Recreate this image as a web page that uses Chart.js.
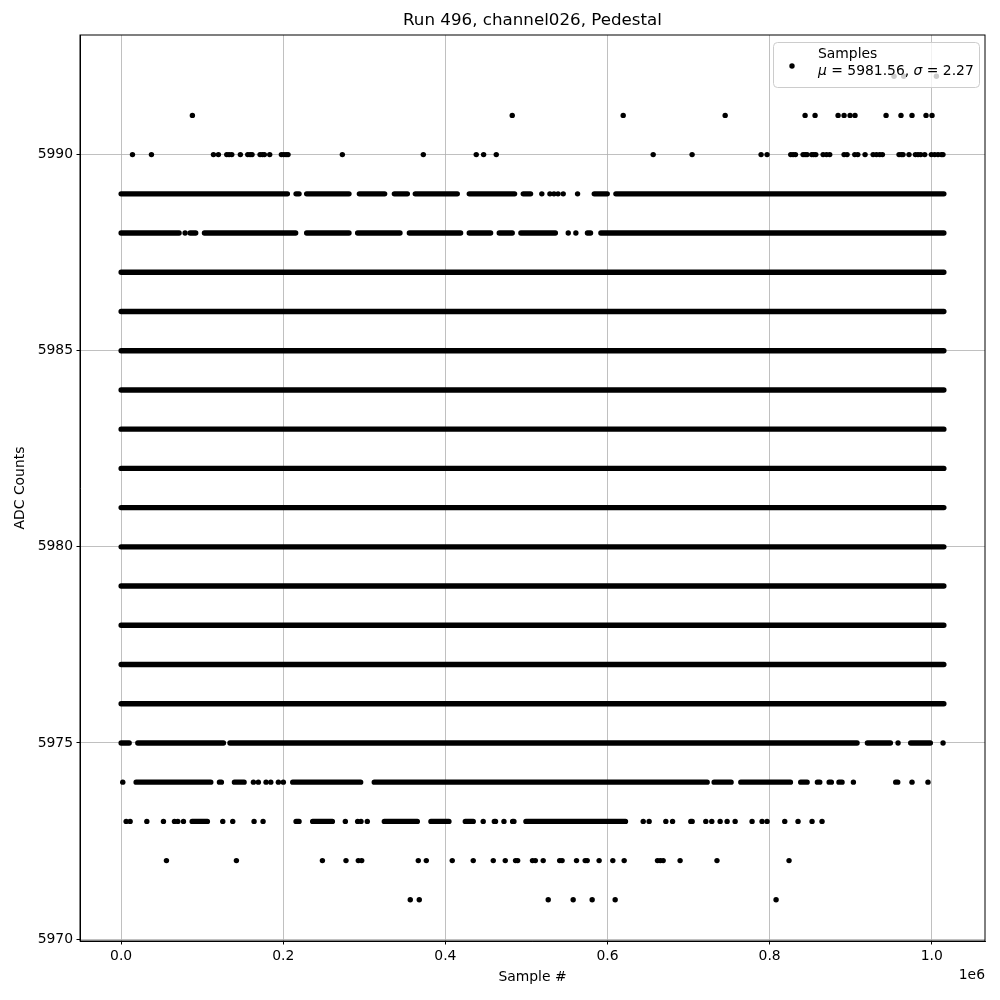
<!DOCTYPE html>
<html>
<head>
<meta charset="utf-8">
<script src="https://cdn.jsdelivr.net/npm/chart.js@4/dist/chart.umd.min.js"></script>
<style>
  body { margin: 0; background: #fff; }
  #wrap { width: 1000px; height: 1000px; }
</style>
</head>
<body>
<div id="wrap"><canvas id="canvas-pedestal" width="1000" height="1000"></canvas></div>
<script>
const chartTitle = 'Run 496, channel026, Pedestal';
const xLabel = 'Sample #';
const yLabel = 'ADC Counts';
const xTicks = [0, 0.2, 0.4, 0.6, 0.8, 1.0];   // in units of 1e6 samples
const yTicks = [5970, 5975, 5980, 5985, 5990];
const legendLabel = 'Samples';
const sampleMean = 5981.56;
const sampleSigma = 2.27;

// ADC values where samples cover the whole run
const solidRows = [5976, 5977, 5978, 5979, 5980, 5981, 5982, 5983, 5984, 5985, 5986, 5987];
const solidSpan = [0, 1.015];

// stretches of overlapping samples, [first, last] (1e6 samples)
const runs5989 = [[0, 0.2051], [0.2158, 0.2195], [0.2289, 0.2811], [0.2939, 0.3251], [0.3371, 0.3531],
  [0.3629, 0.4147], [0.4295, 0.4854], [0.4961, 0.5051], [0.5837, 0.5997], [0.6104, 1.015]];
const runs5988 = [[0, 0.0715], [0.0851, 0.0920], [0.1028, 0.2153], [0.2289, 0.2811], [0.2918, 0.3440],
  [0.3556, 0.4188], [0.4295, 0.4558], [0.4665, 0.4825], [0.4932, 0.5357], [0.5753, 0.5791], [0.5919, 1.015]];
const runs5975 = [[0, 0.0099], [0.0206, 0.1262], [0.1343, 0.9079], [0.9207, 0.9490], [0.9741, 0.9983]];
const runs5974 = [[0.0185, 0.1106], [0.1213, 0.1237], [0.1398, 0.1517], [0.2117, 0.2955], [0.3123, 0.7230],
  [0.7316, 0.7525], [0.7645, 0.8257], [0.8384, 0.8463], [0.8590, 0.8619], [0.8735, 0.8762],
  [0.8856, 0.8894], [0.9034, 0.9039], [0.9556, 0.9581]];
const runs5973 = [[0.0876, 0.1064], [0.2158, 0.2195], [0.2363, 0.2606], [0.3247, 0.3654], [0.3822, 0.4044],
  [0.4246, 0.4344], [0.4604, 0.4619], [0.4830, 0.4846], [0.4994, 0.6222], [0.7028, 0.7045]];

// single samples (1e6 samples)
const dots5992 = [0.9535, 0.9655, 1.0058];
const dots5991 = [0.0879, 0.4825, 0.6194, 0.7452, 0.8438, 0.8561, 0.8845, 0.8919, 0.8993, 0.9054,
  0.9437, 0.9621, 0.9757, 0.9930, 1.0004];
const dots5990 = [0.0140, 0.0374, 0.1139, 0.1200, 0.1303, 0.1332, 0.1365, 0.1471, 0.1562, 0.1591, 0.1615,
  0.1714, 0.1743, 0.1767, 0.1833, 0.1977, 0.2006, 0.2035, 0.2059, 0.2729, 0.3728, 0.4381, 0.4472, 0.4628,
  0.6564, 0.7044, 0.7895, 0.7969, 0.8261, 0.8290, 0.8319, 0.8413, 0.8438, 0.8462, 0.8520, 0.8545, 0.8570,
  0.8660, 0.8702, 0.8742, 0.8919, 0.8956, 0.9051, 0.9088, 0.9178, 0.9277, 0.9318, 0.9359, 0.9392,
  0.9597, 0.9626, 0.9646, 0.9720, 0.9799, 0.9831, 0.9864, 0.9914, 0.9996, 1.0037, 1.0078, 1.0119, 1.0139];
const dots5989 = [0.5190, 0.5290, 0.5340, 0.5390, 0.5454, 0.5631];
const dots5988 = [0.0789, 0.5516, 0.5610];
const dots5975 = [0.9585, 1.0140];
const dots5974 = [0.0020, 0.1632, 0.1693, 0.1788, 0.1846, 0.1940, 0.2001, 0.9757, 0.9954];
const dots5973 = [0.0062, 0.0111, 0.0317, 0.0522, 0.0658, 0.0699, 0.0769, 0.1254, 0.1377, 0.1640, 0.1751,
  0.2766, 0.2918, 0.2959, 0.3037, 0.4467, 0.4723, 0.6441, 0.6514, 0.6720, 0.6803, 0.7213, 0.7287, 0.7390,
  0.7476, 0.7575, 0.7784, 0.7907, 0.7969, 0.8187, 0.8351, 0.8524, 0.8647];
const dots5972 = [0.0559, 0.1422, 0.2483, 0.2774, 0.2926, 0.2968, 0.3666, 0.3765, 0.4085, 0.4344, 0.4591,
  0.4739, 0.4866, 0.4892, 0.5075, 0.5110, 0.5207, 0.5410, 0.5440, 0.5618, 0.5725, 0.5750, 0.5897, 0.6066,
  0.6206, 0.6617, 0.6652, 0.6687, 0.6896, 0.7351, 0.8240];
const dots5971 = [0.3567, 0.3678, 0.5269, 0.5577, 0.5811, 0.6095, 0.8080];

const FONT = '"DejaVu Sans", sans-serif';

function runPoints(y, runs) {
    const pts = [];
    runs.forEach(([a, b]) => {
        pts.push({ x: a, y }, { x: b, y }, { x: b, y: null });
    });
    return pts;
}

function dotPoints(y, xs) {
    return xs.map(x => ({ x, y }));
}

const runData = [
    ...solidRows.flatMap(y => runPoints(y, [solidSpan])),
    ...runPoints(5989, runs5989),
    ...runPoints(5988, runs5988),
    ...runPoints(5975, runs5975),
    ...runPoints(5974, runs5974),
    ...runPoints(5973, runs5973)
];

const dotData = [
    ...dotPoints(5992, dots5992),
    ...dotPoints(5991, dots5991),
    ...dotPoints(5990, dots5990),
    ...dotPoints(5989, dots5989),
    ...dotPoints(5988, dots5988),
    ...dotPoints(5975, dots5975),
    ...dotPoints(5974, dots5974),
    ...dotPoints(5973, dots5973),
    ...dotPoints(5972, dots5972),
    ...dotPoints(5971, dots5971)
];

// frame, in-axes legend, title and offset label like matplotlib
const decorations = {
    id: 'decorations',
    afterDatasetsDraw(chart) {
        const { ctx, chartArea: a } = chart;
        ctx.save();
        ctx.strokeStyle = '#000';
        ctx.lineWidth = 1;
        ctx.strokeRect(a.left, a.top, a.right - a.left, a.bottom - a.top);

        // legend box
        const bx = a.right - 212, by = a.top + 7, bw = 206, bh = 45;
        ctx.beginPath();
        ctx.roundRect(bx + 0.5, by + 0.5, bw, bh, 4);
        ctx.fillStyle = 'rgba(255,255,255,0.8)';
        ctx.fill();
        ctx.strokeStyle = '#cccccc';
        ctx.stroke();

        ctx.fillStyle = '#000';
        ctx.beginPath();
        ctx.arc(bx + 19, by + 24, 2.7, 0, Math.PI * 2);
        ctx.fill();

        ctx.textBaseline = 'middle';
        ctx.textAlign = 'left';
        ctx.font = '13.9px ' + FONT;
        ctx.fillText(legendLabel, bx + 45, by + 12.5);

        const parts = [
            ['μ', true], [' = ' + sampleMean.toFixed(2) + ', ', false],
            ['σ', true], [' = ' + sampleSigma.toFixed(2), false]
        ];
        let tx = bx + 45;
        parts.forEach(([t, it]) => {
            ctx.font = (it ? 'italic ' : '') + '13.9px ' + FONT;
            ctx.fillText(t, tx, by + 29);
            tx += ctx.measureText(t).width;
        });
        ctx.restore();
    },
    afterDraw(chart) {
        const { ctx, chartArea: a } = chart;
        ctx.save();
        ctx.fillStyle = '#000';
        ctx.textBaseline = 'middle';
        ctx.textAlign = 'center';
        ctx.font = '16.7px ' + FONT;
        ctx.fillText(chartTitle, (a.left + a.right) / 2, 21);
        ctx.textAlign = 'right';
        ctx.font = '13.9px ' + FONT;
        ctx.fillText('1e6', a.right, 975);
        ctx.restore();
    }
};

const tickFont = { family: FONT, size: 13.9 };

new Chart(document.getElementById('canvas-pedestal'), {
    type: 'scatter',
    data: {
        datasets: [{
            type: 'line',
            label: legendLabel,
            data: runData,
            borderColor: '#000',
            borderWidth: 5.4,
            borderCapStyle: 'round',
            borderJoinStyle: 'round',
            pointRadius: 0,
            spanGaps: false,
            tension: 0,
            fill: false
        }, {
            type: 'scatter',
            label: legendLabel,
            data: dotData,
            pointRadius: 2.7,
            pointBackgroundColor: '#000',
            pointBorderWidth: 0,
            showLine: false
        }]
    },
    options: {
        responsive: false,
        animation: false,
        events: [],
        layout: { padding: { top: 35, right: 15, left: 0, bottom: 0 } },
        plugins: {
            legend: { display: false },
            tooltip: { enabled: false },
            title: { display: false }
        },
        scales: {
            x: {
                type: 'linear',
                position: 'bottom',
                min: -0.05075,
                max: 1.06575,
                afterBuildTicks: s => { s.ticks = xTicks.map(v => ({ value: v })); },
                afterFit: s => { s.height = 59; },
                grid: { color: '#b0b0b0', lineWidth: 0.8, tickColor: '#000', tickLength: 3.5, tickWidth: 1 },
                border: { color: '#000', width: 1 },
                ticks: {
                    color: '#000', font: tickFont, padding: 3.5, maxRotation: 0, autoSkip: false,
                    callback: v => v.toFixed(1)
                },
                title: { display: true, text: xLabel, color: '#000', font: tickFont, padding: { top: 0, bottom: 14.5 } }
            },
            y: {
                type: 'linear',
                position: 'left',
                min: 5969.95,
                max: 5993.05,
                afterBuildTicks: s => { s.ticks = yTicks.map(v => ({ value: v })); },
                afterFit: s => { s.width = 80; },
                grid: { color: '#b0b0b0', lineWidth: 0.8, tickColor: '#000', tickLength: 3.5, tickWidth: 1 },
                border: { color: '#000', width: 1 },
                ticks: {
                    color: '#000', font: tickFont, padding: 3.5, autoSkip: false,
                    callback: v => String(v)
                },
                title: { display: true, text: yLabel, color: '#000', font: tickFont, padding: { top: 12, bottom: 0 } }
            }
        }
    },
    plugins: [decorations]
});
</script>
</body>
</html>
